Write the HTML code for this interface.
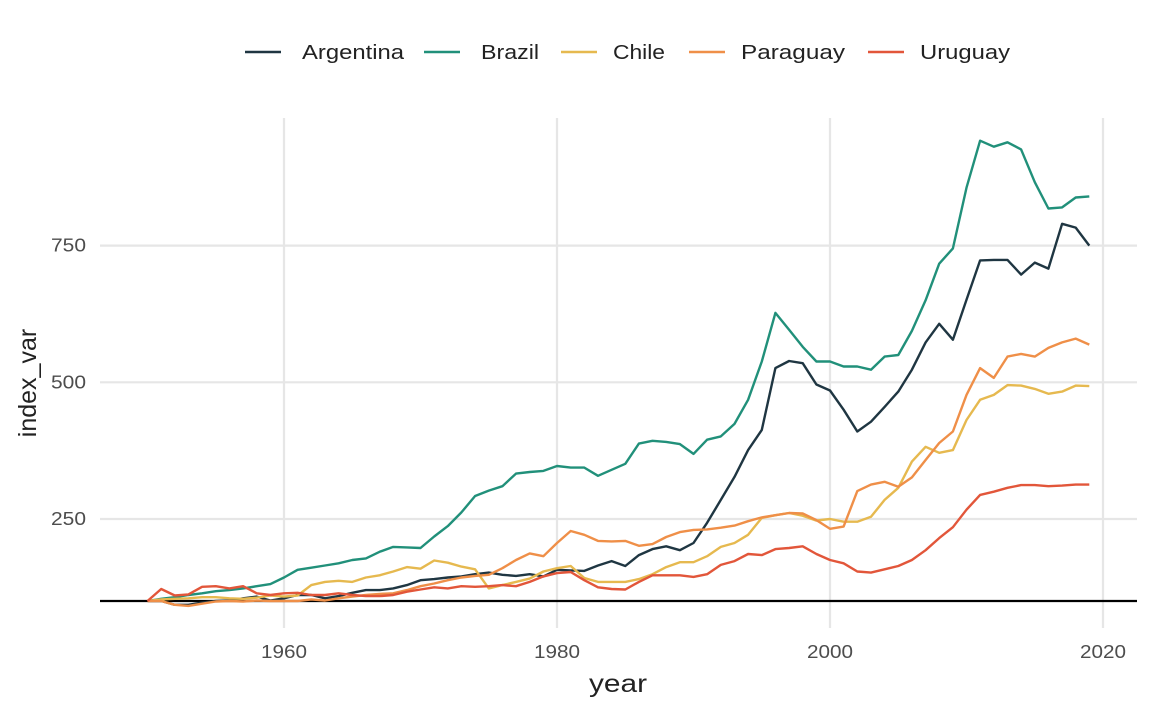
<!DOCTYPE html>
<html><head><meta charset="utf-8"><style>
body{margin:0;background:#fff;}
svg{display:block;font-family:"Liberation Sans",sans-serif;}
</style></head><body>
<svg id="chart" width="1152" height="711" viewBox="0 0 1152 711" xmlns="http://www.w3.org/2000/svg">
<g id="grid"></g>
<g id="axes"></g>
<g id="lines"></g>
<g id="legend"></g>
<text x="589" y="692" font-size="25" fill="#222" textLength="58" lengthAdjust="spacingAndGlyphs">year</text>
<text x="36" y="383" font-size="25" fill="#222" text-anchor="middle" transform="rotate(-90 36 383)">index_var</text>
</svg>
<script>
const startYear = 1950;
const countries = ["Argentina","Brazil","Chile","Paraguay","Uruguay"];
const colors = ["#1f3642","#21907a","#e6b94f","#ef8f48","#e2563a"];
const argentina = [100,100,93,93,97,100,101,105,108,101,105,111,111,105,109,115,120,120,123,129,138,140,143,145,149,152,148,146,149,145,157,156,155,165,173,164,184,195,200,193,206,243,285,327,376,413,526,539,535,496,485,450,410,428,455,483,523,573,607,578,651,723,724,724,697,719,708,790,783,750];
const brazil = [100,104,107,111,114,118,120,123,127,131,143,157,161,165,169,175,178,190,199,198,197,218,237,262,292,302,310,333,336,338,347,344,344,329,340,351,388,393,391,387,369,395,401,424,468,538,627,596,565,538,538,529,529,523,547,550,594,650,717,745,856,942,931,939,926,866,818,820,838,840];
const chile = [100,103,104,105,107,107,105,104,106,110,108,110,129,135,137,135,143,147,154,162,159,174,170,163,158,123,129,135,141,154,160,164,142,135,135,135,140,149,162,171,171,182,199,206,221,252,257,261,256,247,250,245,245,254,285,307,355,382,371,376,431,468,477,495,494,488,479,483,494,493];
const paraguay = [100,100,93,91,95,99,100,99,101,100,100,100,103,101,105,108,111,113,114,120,127,132,138,143,146,148,160,175,187,182,206,228,221,210,209,210,201,204,217,226,230,231,234,238,246,253,257,261,260,248,232,236,301,313,318,309,326,358,389,410,477,526,508,547,552,547,563,573,580,569];
const uruguay = [100,122,110,112,126,127,123,127,114,111,114,115,111,111,114,111,109,109,111,117,121,125,123,127,126,127,129,127,135,145,151,153,138,125,122,121,135,147,147,147,144,149,166,173,186,184,195,197,200,186,175,169,154,152,158,164,175,193,215,235,267,294,300,307,312,312,310,311,313,313];
const series = [argentina, brazil, chile, paraguay, uruguay];
const yTicks = [250,500,750];
const xTicks = [1960,1980,2000,2020];

const NS = "http://www.w3.org/2000/svg";
function xs(yr){ return 147.5 + (yr - 1950) * 13.65; }
function ys(v){ return 601 - (v - 100) * 0.5467; }
function mk(tag, attrs, parent){ const e = document.createElementNS(NS, tag); for (const k in attrs) e.setAttribute(k, attrs[k]); parent.appendChild(e); return e; }

const grid = document.getElementById("grid");
const axes = document.getElementById("axes");
yTicks.forEach(t => {
  const l = mk("line", {x1:100, x2:1137, y1:ys(t), y2:ys(t), stroke:"#e6e6e6", "stroke-width":2.2}, grid);
  
  
  const tx = mk("text", {x:86, y:ys(t)+6, "font-size":18, fill:"#4d4d4d", "text-anchor":"end", textLength:35, lengthAdjust:"spacingAndGlyphs"}, axes);
  tx.textContent = t;
  
  
});
xTicks.forEach(t => {
  const l = mk("line", {x1:xs(t), x2:xs(t), y1:118, y2:628, stroke:"#e6e6e6", "stroke-width":2.2}, grid);
  
  
  const tx = mk("text", {x:xs(t)-23, y:658, "font-size":18, fill:"#4d4d4d", textLength:46, lengthAdjust:"spacingAndGlyphs"}, axes);
  tx.textContent = t;
  
  
});
const base = mk("line", {x1:100, x2:1137, y1:ys(100), y2:ys(100), stroke:"#000", "stroke-width":2.2}, axes);



const lines = document.getElementById("lines");
series.forEach((s, i) => {
  const pts = s.map((v, j) => xs(startYear + j).toFixed(1) + "," + ys(v).toFixed(1)).join(" ");
  const p = mk("polyline", {points:pts, fill:"none", stroke:colors[i], "stroke-width":2.4, "stroke-linejoin":"round"}, lines);
  
  
});

const legend = document.getElementById("legend");
const legX = [245, 424, 561, 689, 868];
const legTX = [302, 481, 613, 741, 920];
const legW = [102, 58, 52, 104, 90];
countries.forEach((c, i) => {
  const g = mk("g", {}, legend);
  
  
  mk("line", {x1:legX[i], x2:legX[i]+36, y1:52, y2:52, stroke:colors[i], "stroke-width":2.4}, g);
  const t = mk("text", {x:legTX[i], y:59, "font-size":20, fill:"#222", textLength:legW[i], lengthAdjust:"spacingAndGlyphs"}, g);
  t.textContent = c;
});
</script>
</body></html>
